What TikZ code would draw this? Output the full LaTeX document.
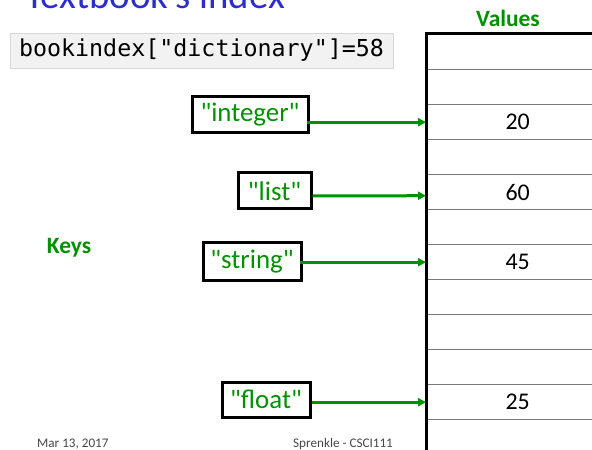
\documentclass[tikz,border=0pt]{standalone}
\usepackage{fontspec}
\setmainfont{Carlito}
\newfontfamily\keyfont{Carlito}
\newfontfamily\codefont{DejaVu Sans Mono}
\usetikzlibrary{arrows.meta,shadows}
\definecolor{keygreen}{RGB}{0,145,0}
\definecolor{titleblue}{RGB}{45,45,205}
\definecolor{codebg}{RGB}{242,242,242}
\definecolor{codeline}{RGB}{215,215,215}
\definecolor{footgray}{RGB}{70,70,70}
\definecolor{rowline}{RGB}{120,120,120}
\tikzset{
  keybox/.style={draw=black, line width=3bp, text=keygreen, inner sep=0pt,
    font=\keyfont\fontsize{27}{27}\selectfont},
  cell/.style={draw=rowline, line width=1.4bp, minimum width=182bp, minimum height=35bp,
    inner sep=0pt, anchor=north west, font=\fontsize{24}{24}\selectfont},
  arr/.style={draw=keygreen, line width=3bp, -{Triangle[length=8bp,width=8bp]}},
  lbl/.style={text=keygreen, font=\bfseries\fontsize{23.5}{23.5}\selectfont, inner sep=0pt},
  foot/.style={text=footgray, font=\fontsize{13.2}{13.2}\selectfont, inner sep=0pt, anchor=base west},
}
\begin{document}
\begin{tikzpicture}[x=1bp,y=-1bp]
\useasboundingbox (0,0) rectangle (592,450);
\clip (0,0) rectangle (592,450);
% title (cut off at top)
\node[anchor=base west, inner sep=0pt, text=titleblue, font=\fontsize{39}{39}\selectfont] (title) at (25,9) {Textbook's index};
% code box
\node[fill=codebg, draw=codeline, line width=0.6bp, minimum width=383bp, minimum height=35bp,
  inner sep=0pt, drop shadow={shadow xshift=1.2bp, shadow yshift=-1.5bp, opacity=0.35},
  font=\codefont\fontsize{23.4}{23.4}\selectfont] (code) at (201.5,50.5) {bookindex["dictionary"]=58};
% labels
\node[lbl] (values) at (508,18) {Values};
\node[lbl] (keys) at (69,248) {Keys};
% table cells
\foreach \i in {0,...,11} {
  \node[cell] (c\i) at (426,{34+35*\i}) {};
}
\node[cell] (v20) at (426,104) {20};
\node[cell] (v60) at (426,174) {60};
\node[cell] (v45) at (426,244) {45};
\node[cell] (v25) at (426,384) {25};
% table left border and top
\coordinate (tl) at (426,34);
\coordinate (bl) at (426,452);
\coordinate (tr) at (594,34);
\draw[line width=3bp] (bl) -- (tl) -- (tr);
% key boxes
\node[keybox, minimum width=116bp, minimum height=36bp] (kint) at (250,115) {"integer"};
\node[keybox, minimum width=73bp, minimum height=36bp] (klist) at (274.5,191) {"list"};
\node[keybox, minimum width=98bp, minimum height=37bp] (kstr) at (252,261.5) {"string"};
\node[keybox, minimum width=88bp, minimum height=35bp] (kflt) at (266,399.5) {"float"};
% arrows
\draw[arr] ([xshift=-3bp]kint.east |- v20.west) -- (v20.west);
\draw[arr] ([yshift=-5bp]klist.east) -- ([yshift=-3.5bp]v60.west);
\draw[arr] ([xshift=-3bp]kstr.east |- v45.west) -- (v45.west);
\draw[arr] (kflt.east |- v25.west) -- (v25.west);
% footer
\node[foot] (date) at (37,447) {Mar 13, 2017};
\node[foot] (author) at (293,447) {Sprenkle - CSCI111};
\end{tikzpicture}
\end{document}
